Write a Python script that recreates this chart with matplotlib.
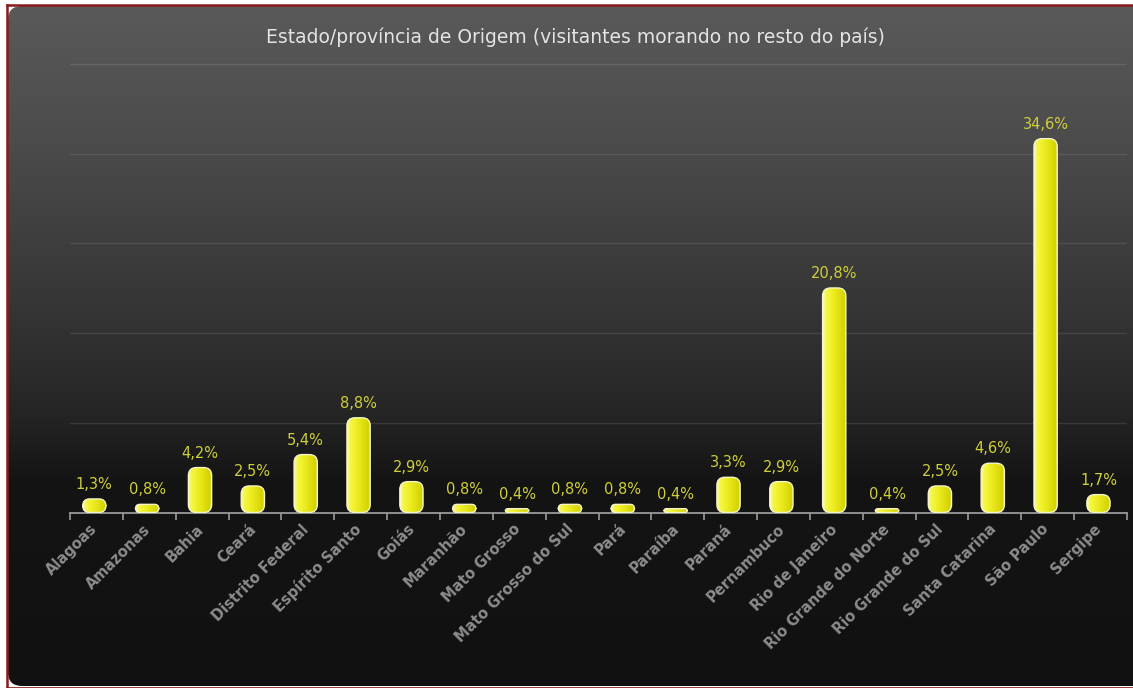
import numpy as np
import matplotlib
matplotlib.use("Agg")
import matplotlib.pyplot as plt
from matplotlib.patches import FancyBboxPatch
from matplotlib.lines import Line2D
from matplotlib.colors import LinearSegmentedColormap

# ---- data ----
categories = ["Alagoas", "Amazonas", "Bahia", "Ceará", "Distrito Federal",
              "Espírito Santo", "Goiás", "Maranhão", "Mato Grosso",
              "Mato Grosso do Sul", "Pará", "Paraíba", "Paraná", "Pernambuco",
              "Rio de Janeiro", "Rio Grande do Norte", "Rio Grande do Sul",
              "Santa Catarina", "São Paulo", "Sergipe"]
values = [1.3, 0.8, 4.2, 2.5, 5.4, 8.8, 2.9, 0.8, 0.4, 0.8, 0.8, 0.4, 3.3,
          2.9, 20.8, 0.4, 2.5, 4.6, 34.6, 1.7]
value_labels = ["1,3%", "0,8%", "4,2%", "2,5%", "5,4%", "8,8%", "2,9%", "0,8%",
                "0,4%", "0,8%", "0,8%", "0,4%", "3,3%", "2,9%", "20,8%",
                "0,4%", "2,5%", "4,6%", "34,6%", "1,7%"]
title = "Estado/província de Origem (visitantes morando no resto do país)"

W, H = 1133, 688
DPI = 100
fig = plt.figure(figsize=(W / DPI, H / DPI), dpi=DPI, facecolor="white")

# ---- background panel (rounded, vertical gradient) ----
bg = fig.add_axes([0, 0, 1, 1], zorder=0)
bg.set_xlim(0, W)
bg.set_ylim(H, 0)
bg.axis("off")
panel = FancyBboxPatch((8, 6), W - 8 + 30, 680, boxstyle="round,pad=0,rounding_size=14",
                       facecolor="none", edgecolor="none", transform=bg.transData)
bg.add_patch(panel)
ys = np.linspace(0, 1, 400)
stops_y = [0.0, 0.2, 0.45, 0.6, 0.7, 1.0]
stops_c = [0x5a, 0x4c, 0x35, 0x25, 0x14, 0x11]
vals_g = np.interp(ys, stops_y, stops_c) / 255.0
grad = np.dstack([vals_g, vals_g, vals_g]).reshape(400, 1, 3)
im = bg.imshow(grad, extent=[0, W, H, 0], aspect="auto", interpolation="bilinear")
im.set_clip_path(panel)

# red frame
red = "#8a1a1a"
fig.add_artist(Line2D([7 / W, 7 / W], [1 - 5 / H, 1 - 687 / H], color=red, lw=1.8))
fig.add_artist(Line2D([7 / W, 1], [1 - 5 / H, 1 - 5 / H], color=red, lw=1.8))
fig.add_artist(Line2D([7 / W, 1], [1 - 687.5 / H, 1 - 687.5 / H], color=red, lw=1.2))

# ---- main axes ----
left_px, right_px, top_px, bot_px = 70, 1127, 62, 513
ax = fig.add_axes([left_px / W, 1 - bot_px / H, (right_px - left_px) / W,
                   (bot_px - top_px) / H], zorder=1)
ax.set_facecolor("none")
n = len(categories)
ymax = 41.52
ax.set_xlim(-0.5, n - 0.5)
ax.set_ylim(0, ymax * 1.004)
x = np.arange(n)
bar_w = 0.44
bars = ax.bar(x - 0.04, values, width=bar_w, color="none", edgecolor="none")

for s in ["top", "right", "left"]:
    ax.spines[s].set_visible(False)
ax.spines["bottom"].set_color("#9a9a9a")
ax.spines["bottom"].set_linewidth(1.3)
ax.set_yticks(np.linspace(0, ymax, 6))
ax.tick_params(axis="y", length=0, labelleft=False)
ax.yaxis.grid(True, color="white", alpha=0.1, lw=1.0)
ax.set_axisbelow(True)
ax.set_xticks(np.arange(-0.5, n, 1.0), minor=True)
ax.set_xticks(x)
ax.set_xticklabels([])
ax.tick_params(axis="x", which="major", length=0)
ax.tick_params(axis="x", which="minor", length=5, width=1.2, color="#9a9a9a")

# pixel scales
xu_per_px = n / (right_px - left_px)
yu_per_px = ymax * 1.004 / (bot_px - top_px)
aspect = yu_per_px / xu_per_px

cmap = LinearSegmentedColormap.from_list(
    "yel", [(0.0, "#fbfbc0"), (0.12, "#f6f64a"), (0.35, "#f0f028"),
            (0.8, "#d9d908"), (0.93, "#d2d200"), (1.0, "#ecec9a")])
hgrad = np.linspace(0, 1, 64)[None, :]

for rect, lab in zip(bars, value_labels):
    x0, y0 = rect.get_x(), rect.get_y()
    w, h = rect.get_width(), rect.get_height()
    w_px, h_px = w / xu_per_px, h / yu_per_px
    r_px = max(min(8.0, h_px / 2.0, w_px / 2.0), 0.5)
    patch = FancyBboxPatch((x0, y0 + 0.5 * yu_per_px), w, h - 0.5 * yu_per_px,
                           boxstyle="round,pad=0,rounding_size=%f" % (r_px * xu_per_px),
                           mutation_aspect=aspect, facecolor="none",
                           edgecolor="#f4f4c8", lw=1.0, zorder=4)
    ax.add_patch(patch)
    bim = ax.imshow(hgrad, cmap=cmap, extent=[x0, x0 + w, y0, y0 + h],
                    aspect="auto", zorder=3, interpolation="bilinear")
    bim.set_clip_path(patch)
    ax.annotate(lab, (x0 + w / 2, h), xytext=(0, 5), textcoords="offset points",
                ha="center", va="bottom", color="#cfcf3a", fontsize=10.5,
                family="DejaVu Sans")

ax.set_xlim(-0.5, n - 0.5)
ax.set_ylim(0, ymax * 1.004)

# category labels
for xi, cat in zip(x, categories):
    ax.annotate(cat, (xi, 0), xytext=(-1, -10), textcoords="offset points",
                ha="right", va="center", rotation=45, rotation_mode="anchor",
                color="#8c8c8c", fontsize=10.5, fontweight="bold",
                family="DejaVu Sans", annotation_clip=False)

fig.text(575 / W, 1 - 37 / H, title, ha="center", va="center",
         color="#e4e4e4", fontsize=13.5, family="DejaVu Sans")

fig.savefig("out.png", dpi=DPI, facecolor="white")
